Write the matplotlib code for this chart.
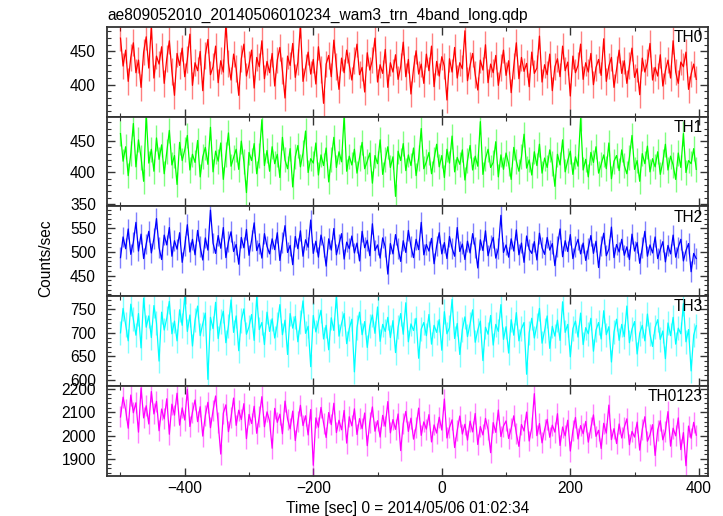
import numpy as np
import matplotlib
matplotlib.use("Agg")
import matplotlib.pyplot as plt
from matplotlib.ticker import MultipleLocator, AutoMinorLocator

plt.rcParams['font.family'] = ['Liberation Sans', 'DejaVu Sans']

# Time bins (sec), 4 s bins from -500 to 400
t_start, t_bin = -500, 4

th0 = [
    470, 428, 452, 405, 441, 463, 418, 437, 396, 449, 472, 425, 488, 410, 443,
    431, 457, 402, 439, 466, 420, 384, 447, 429, 455, 412, 438, 476, 399, 433,
    421, 450, 391, 444, 468, 415, 427, 458, 403, 436, 419, 492, 432, 407, 446,
    424, 384, 439, 461, 413, 430, 452, 395, 441, 427, 466, 409, 435, 418, 447,
    398, 437, 456, 421, 380, 443, 429, 462, 411, 434, 490, 405, 426, 449, 416,
    438, 401, 457, 423, 372, 431, 444, 412, 467, 427, 393, 440, 418, 452, 429,
    407, 436, 461, 415, 426, 389, 448, 422, 437, 470, 404, 430, 417, 453, 396,
    433, 419, 445, 408, 427, 464, 412, 438, 386, 424, 451, 416, 431, 402, 446,
    421, 458, 397, 435, 413, 442, 428, 377, 439, 419, 456, 410, 433, 424, 481,
    406, 429, 447, 415, 392, 437, 422, 460, 403, 431, 418, 444, 399, 426, 452,
    414, 436, 388, 428, 463, 409, 441, 420, 432, 397, 449, 417, 425, 473, 404,
    430, 415, 446, 391, 427, 439, 412, 458, 421, 434, 383, 443, 418, 429, 461,
    408, 433, 419, 447, 400, 426, 438, 414, 469, 405, 428, 441, 396, 423, 452,
    417, 436, 402, 429, 455, 411, 424, 385, 440, 419, 433, 462, 407, 426, 413,
    445, 398, 421, 437, 410, 466, 419, 402, 434, 427, 449, 393, 416, 431, 408,
]

th1 = [
    462, 418, 441, 395, 430, 478, 409, 452, 424, 386, 493, 415, 437, 402, 455,
    421, 444, 398, 433, 467, 412, 427, 381, 448, 419, 436, 459, 404, 429, 416,
    451, 393, 425, 440, 413, 472, 401, 434, 418, 447, 389, 428, 463, 410, 424,
    437, 405, 450, 417, 368, 432, 419, 446, 398, 427, 484, 411, 435, 402, 441,
    414, 429, 392, 456, 420, 406, 438, 377, 425, 443, 409, 431, 466, 400, 422,
    415, 447, 396, 428, 411, 439, 385, 421, 456, 408, 433, 417, 490, 402, 426,
    412, 437, 399, 423, 448, 406, 418, 431, 383, 427, 414, 452, 397, 420, 441,
    408, 425, 362, 434, 419, 446, 403, 428, 411, 439, 395, 423, 470, 406, 417,
    432, 398, 421, 445, 409, 427, 392, 437, 415, 458, 401, 424, 413, 436, 388,
    419, 443, 404, 426, 410, 481, 397, 422, 437, 408, 416, 449, 393, 428, 405,
    431, 414, 389, 440, 418, 402, 425, 461, 407, 420, 396, 433, 411, 445, 399,
    423, 408, 436, 415, 378, 429, 412, 452, 401, 419, 434, 397, 425, 410, 486,
    404, 421, 393, 432, 416, 441, 399, 413, 428, 406, 447, 390, 418, 427, 403,
    436, 411, 398, 424, 459, 405, 419, 386, 430, 414, 442, 401, 422, 409, 433,
    397, 417, 445, 404, 426, 412, 389, 431, 408, 462, 400, 419, 414, 438, 405,
]

th2 = [
    488, 532, 507, 549, 495, 521, 563, 502, 538, 486, 517, 544, 498, 529, 571,
    509, 484, 536, 515, 552, 491, 524, 506, 541, 478, 513, 558, 500, 527, 494,
    546, 511, 483, 530, 504, 589, 519, 497, 535, 508, 552, 488, 522, 543, 501,
    516, 474, 531, 509, 548, 493, 525, 562, 503, 518, 487, 539, 512, 496, 528,
    505, 541, 482, 520, 556, 499, 514, 473, 533, 507, 545, 491, 526, 510, 568,
    497, 523, 489, 536, 512, 470, 528, 504, 550, 494, 517, 539, 485, 521, 507,
    534, 498, 519, 481, 544, 509, 525, 492, 560, 503, 515, 487, 530, 511, 453,
    518, 496, 537, 507, 480, 524, 499, 546, 512, 488, 527, 505, 563, 494, 516,
    502, 529, 475, 513, 541, 496, 520, 486, 533, 508, 491, 552, 501, 517, 484,
    523, 498, 539, 510, 466, 526, 503, 545, 492, 514, 531, 487, 507, 578, 499,
    515, 489, 528, 502, 547, 494, 519, 478, 534, 506, 497, 522, 483, 540, 509,
    495, 531, 504, 518, 471, 512, 549, 490, 524, 501, 537, 486, 511, 527, 496,
    519, 482, 508, 535, 497, 523, 467, 513, 540, 492, 506, 553, 488, 516, 500,
    527, 493, 511, 484, 538, 502, 520, 476, 509, 544, 491, 515, 498, 532, 486,
    505, 522, 479, 514, 496, 536, 489, 510, 527, 481, 503, 518, 458, 497, 486,
]

th3 = [
    700, 752, 718, 683, 761, 729, 695, 741, 668, 774, 712, 736, 690, 758, 721,
    640, 744, 706, 731, 767, 698, 725, 683, 749, 716, 779, 703, 738, 672, 727,
    757, 694, 719, 742, 601, 733, 709, 765, 688, 724, 746, 679, 715, 770, 701,
    736, 662, 726, 751, 697, 713, 739, 684, 777, 707, 722, 675, 744, 703, 730,
    689, 718, 760, 696, 727, 654, 741, 710, 735, 681, 723, 768, 699, 714, 628,
    737, 702, 725, 748, 687, 716, 664, 732, 705, 779, 693, 720, 741, 677, 709,
    729, 617, 711, 744, 696, 724, 669, 715, 738, 699, 755, 682, 718, 703, 733,
    690, 726, 658, 712, 741, 697, 764, 681, 719, 705, 731, 646, 708, 722, 694,
    739, 676, 716, 701, 728, 663, 745, 698, 711, 771, 688, 720, 654, 707, 734,
    692, 719, 749, 680, 706, 725, 641, 712, 697, 737, 674, 718, 703, 760, 686,
    713, 657, 728, 695, 743, 683, 709, 722, 612, 700, 731, 689, 716, 752, 678,
    705, 736, 667, 714, 693, 727, 684, 766, 701, 718, 649, 709, 725, 691, 742,
    675, 711, 698, 731, 661, 706, 722, 687, 747, 696, 713, 638, 702, 729, 684,
    718, 692, 757, 679, 708, 724, 655, 699, 716, 683, 740, 697, 671, 712, 728,
    686, 704, 645, 721, 694, 733, 676, 710, 698, 762, 681, 707, 619, 695, 715,
]

th0123 = [
    2080, 2165, 2110, 2032, 2174, 2098, 2141, 2015, 2205, 2076, 2128, 2050, 2189, 2093, 2147,
    2021, 2114, 2072, 2158, 2006, 2135, 2088, 2182, 2045, 2119, 2067, 2198, 2039, 2101, 2153,
    2060, 2124, 1998, 2086, 2143, 2034, 2107, 2170, 2055, 1921, 2096, 2132, 2017, 2078, 2161,
    2044, 2109, 2069, 2137, 1987, 2091, 2052, 2126, 2010, 2083, 2167, 2038, 2102, 2063, 1946,
    2117, 2057, 2092, 2008, 2148, 2071, 2029, 2105, 1979, 2061, 2130, 2043, 2085, 2003, 2112,
    1873, 2076, 2036, 2121, 2054, 1992, 2099, 2047, 2139, 2013, 2066, 2025, 2108, 1968, 2081,
    2042, 2115, 2005, 2073, 2030, 2097, 1957, 2058, 2123, 2019, 2064, 1994, 2087, 2040, 2146,
    2012, 2069, 2027, 2093, 1936, 2051, 2104, 2018, 2075, 1985, 2037, 2118, 2001, 2059, 2028,
    2090, 1973, 2046, 2011, 2079, 2024, 2157, 1990, 2035, 2068, 1949, 2022, 2084, 2007, 2049,
    1981, 2062, 2016, 2095, 1962, 2039, 2003, 2074, 2026, 1927, 2056, 2014, 2110, 1996, 2041,
    2063, 1988, 2031, 2085, 2009, 1954, 2048, 2020, 2101, 1977, 2033, 2180, 2000, 2052, 1969,
    2026, 2070, 1993, 2045, 2015, 2094, 1958, 2037, 1999, 2066, 1934, 2021, 2078, 1986, 2043,
    2008, 2061, 1972, 2034, 2089, 1997, 2023, 1945, 2053, 2011, 2131, 1983, 2030, 1966, 2050,
    1990, 2036, 2072, 1961, 2018, 1994, 2058, 1938, 2027, 2081, 1976, 2004, 2047, 1915, 2024,
    2064, 1982, 2019, 2103, 1955, 2032, 1999, 2076, 1940, 2013, 1871, 2041, 1989, 2057, 2002,
]

labels = ['TH0', 'TH1', 'TH2', 'TH3', 'TH0123']
series = [th0, th1, th2, th3, th0123]
errors = [20, 20, 22, 26, 45]
colors = ['#ff0000', '#00ff00', '#0000ff', '#00ffff', '#ff00ff']
ylims = [(352, 487), (346, 489), (406, 597), (587, 778), (1828, 2213)]
ymajor = [50, 50, 50, 50, 100]

fig, axes = plt.subplots(5, 1, sharex=True, figsize=(7.23, 5.16), dpi=100,
                         gridspec_kw={'hspace': 0})
fig.subplots_adjust(left=0.148, right=0.979, top=0.948, bottom=0.078)

for ax, lab, y, err, c, yl, ym in zip(axes, labels, series, errors, colors, ylims, ymajor):
    y = np.array(y)
    t = t_start + t_bin * np.arange(len(y))
    ax.errorbar(t, y, yerr=err, fmt='none', ecolor=c, alpha=0.5, elinewidth=1.0)
    ax.plot(t, y, color=c, lw=0.9)
    ax.set_xlim(-521, 414)
    ax.set_ylim(*yl)
    ax.yaxis.set_major_locator(MultipleLocator(ym))
    ax.yaxis.set_minor_locator(AutoMinorLocator(5))
    ax.xaxis.set_major_locator(MultipleLocator(200))
    ax.xaxis.set_minor_locator(AutoMinorLocator(2))
    ax.tick_params(which='both', direction='in', top=True, right=True,
                   labelsize=11.2, colors='#333333', labelcolor='black')
    ax.tick_params(axis='y', pad=8)
    ax.tick_params(which='major', length=6, width=1)
    ax.tick_params(which='minor', length=3, width=0.8)
    for s in ax.spines.values():
        s.set_linewidth(1.3)
        s.set_color('#333333')
    ax.text(0.992, 0.965, lab, transform=ax.transAxes, ha='right', va='top',
            fontsize=11.2)

axes[0].set_title('ae809052010_20140506010234_wam3_trn_4band_long.qdp',
                  loc='left', fontsize=11.2, pad=5)
axes[-1].set_xlabel('Time [sec] 0 = 2014/05/06 01:02:34', fontsize=11.2, labelpad=4)
fig.text(0.063, 0.5, 'Counts/sec', rotation=90, ha='center', va='center', fontsize=11.2)

plt.savefig('out.png', dpi=100)
